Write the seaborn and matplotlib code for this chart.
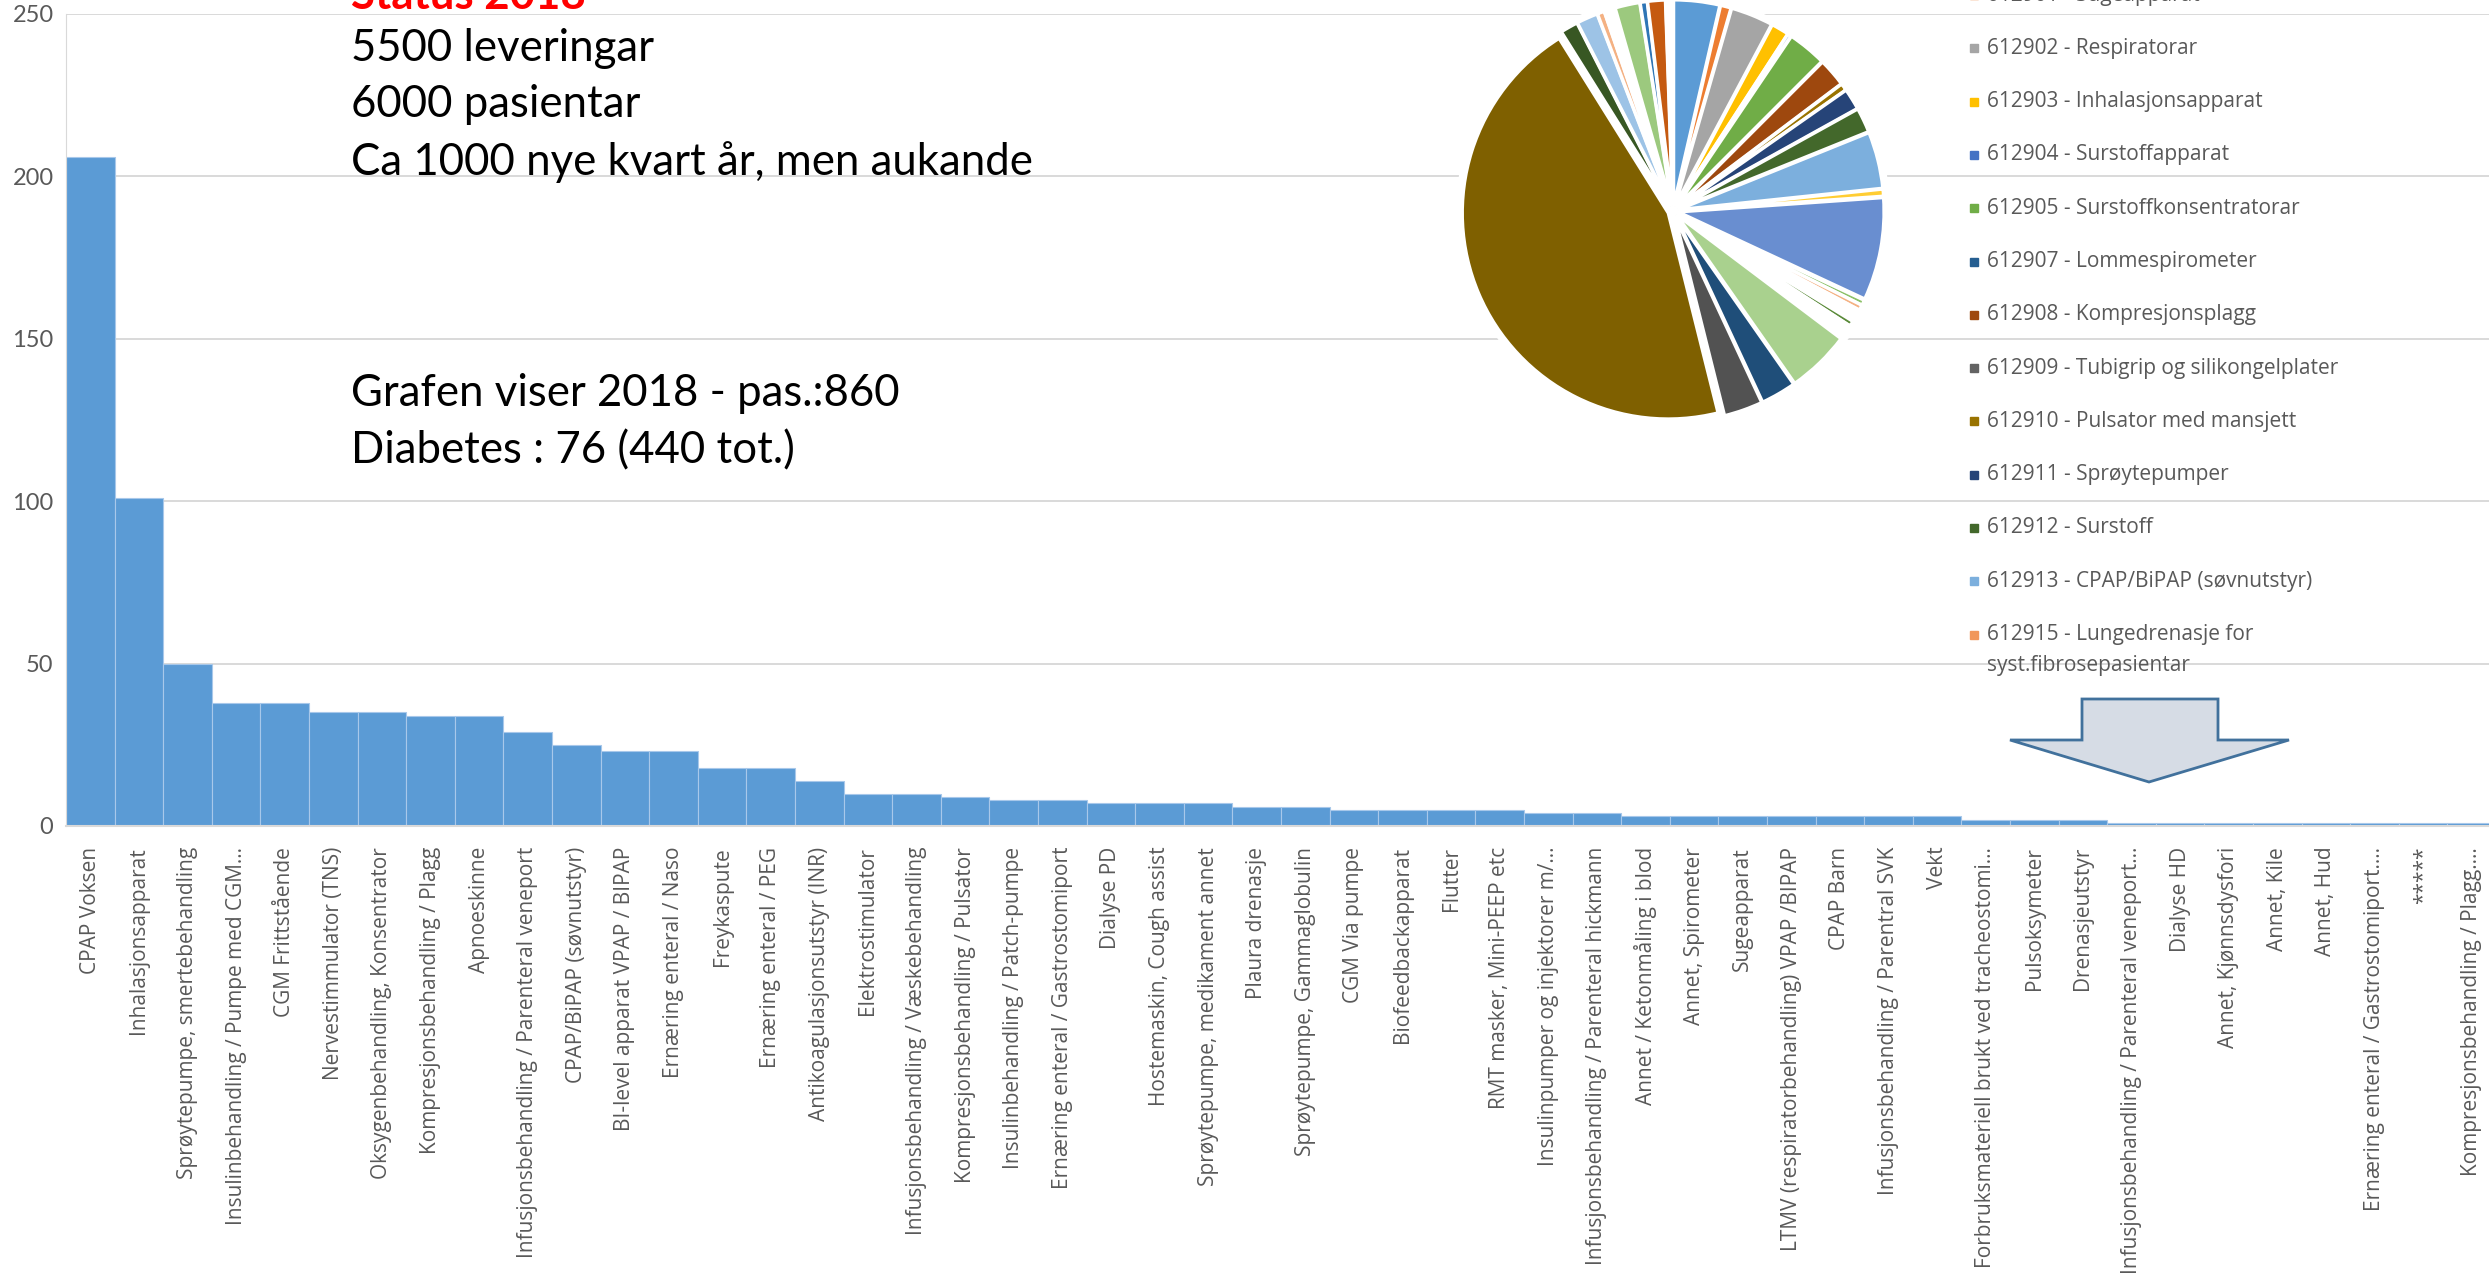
import numpy as np
import pandas as pd
import seaborn as sns
import matplotlib.pyplot as plt
from matplotlib.patches import Polygon, Rectangle, Circle

W, H = 2489, 1275

# --- data ---
categories = [
    "CPAP Voksen", "Inhalasjonsapparat", "Sprøytepumpe, smertebehandling",
    "Insulinbehandling / Pumpe med CGM...", "CGM Frittstående", "Nervestimmulator (TNS)",
    "Oksygenbehandling, Konsentrator", "Kompresjonsbehandling / Plagg", "Apnoeskinne",
    "Infusjonsbehandling / Parenteral veneport", "CPAP/BiPAP (søvnutstyr)",
    "BI-level apparat VPAP / BIPAP", "Ernæring enteral / Naso", "Freykaspute",
    "Ernæring enteral / PEG", "Antikoagulasjonsutstyr (INR)", "Elektrostimulator",
    "Infusjonsbehandling / Væskebehandling", "Kompresjonsbehandling / Pulsator",
    "Insulinbehandling / Patch-pumpe", "Ernæring enteral / Gastrostomiport", "Dialyse PD",
    "Hostemaskin, Cough assist", "Sprøytepumpe, medikament annet", "Plaura drenasje",
    "Sprøytepumpe, Gammaglobulin", "CGM Via pumpe", "Biofeedbackapparat", "Flutter",
    "RMT masker, Mini-PEEP etc", "Insulinpumper og injektorer m/...",
    "Infusjonsbehandling / Parenteral hickmann", "Annet / Ketonmåling i blod",
    "Annet, Spirometer", "Sugeapparat", "LTMV (respiratorbehandling) VPAP /BIPAP",
    "CPAP Barn", "Infusjonsbehandling / Parentral SVK", "Vekt",
    "Forbruksmateriell brukt ved tracheostomi...", "Pulsoksymeter", "Drenasjeutstyr",
    "Infusjonsbehandling / Parenteral veneport...", "Dialyse HD", "Annet, Kjønnsdysfori",
    "Annet, Kile", "Annet, Hud", "Ernæring enteral / Gastrostomiport....", "*****",
    "Kompresjonsbehandling / Plagg....",
]
counts = [206, 101, 50, 38, 38, 35, 35, 34, 34, 29, 25, 23, 23, 18, 18, 14, 10, 10, 9, 8,
          8, 7, 7, 7, 6, 6, 5, 5, 5, 5, 4, 4, 3, 3, 3, 3, 3, 3, 3, 2,
          2, 2, 1, 1, 1, 1, 1, 1, 1, 1]

# pie slices, clockwise from 12 o'clock (relative shares)
pie_values = [13, 3, 12, 5, 1, 11, 8, 2, 6, 7, 16, 2, 29, 1.5, 1.5, 3.5, 1.5, 4,
              18, 10, 11, 162, 5, 6, 2, 3, 7, 2, 5, 2]
pie_colors = ["#5B9BD5", "#ED7D31", "#A5A5A5", "#FFC000", "#4472C4", "#70AD47",
              "#9E480E", "#997300", "#264478", "#43682B", "#7CAFDD", "#FFCD33",
              "#698ED0", "#8CC168", "#F4B183", "#FFFFFF", "#5A8A39", "#FFFFFF",
              "#A9D18E", "#1F4E79", "#525252", "#7F6000", "#385723", "#9DC3E6",
              "#F4B183", "#FFFFFF", "#9CC97E", "#2E75B6", "#C55A11", "#FFFFFF"]

legend_labels = [
    "612901 - Sugeapparat", "612902 - Respiratorar", "612903 - Inhalasjonsapparat",
    "612904 - Surstoffapparat", "612905 - Surstoffkonsentratorar", "612907 - Lommespirometer",
    "612908 - Kompresjonsplagg", "612909 - Tubigrip og silikongelplater",
    "612910 - Pulsator med mansjett", "612911 - Sprøytepumper", "612912 - Surstoff",
    "612913 - CPAP/BiPAP (søvnutstyr)", "612915 - Lungedrenasje for\nsyst.fibrosepasientar",
]
legend_colors = ["#ED7D31", "#A5A5A5", "#FFC000", "#4472C4", "#70AD47", "#255E91",
                 "#9E480E", "#636363", "#997300", "#264478", "#43682B", "#7CAFDD", "#F1975A"]

notes_top = ["5500 leveringar", "6000 pasientar", "Ca 1000 nye kvart år, men aukande"]
notes_mid = ["Grafen viser 2018 - pas.:860", "Diabetes : 76 (440 tot.)"]

sns.set_style("white")
plt.rcParams['font.family'] = ['Open Sans', 'DejaVu Sans']


def fx(px):
    return px / W


def fy(py):
    return 1 - py / H


fig = plt.figure(figsize=(W / 100, H / 100), dpi=100)

# --- bar chart ---
ax = fig.add_axes([fx(66), fy(826), 2430 / W, (826 - 14) / H])
sns.barplot(x=categories, y=counts, color="#5B9BD5", saturation=1, width=1.0,
            edgecolor="#A8C8EA", linewidth=0.8, ax=ax)
ax.set_xlim(-0.5, len(categories) - 0.5)
ax.set_ylim(0, 250)
ax.set_yticks(range(0, 251, 50))
ax.set_axisbelow(True)
ax.yaxis.grid(True, color="#D9D9D9", lw=1.4)
ax.xaxis.grid(False)
for s in ["top", "right"]:
    ax.spines[s].set_visible(False)
ax.spines["left"].set_color("#D9D9D9")
ax.spines["bottom"].set_color("#D9D9D9")
ax.spines["bottom"].set_linewidth(1.5)
ax.set_xlabel("")
ax.set_ylabel("")
ax.tick_params(axis="x", length=0, pad=15)
ax.tick_params(axis="y", length=0, pad=9)
ax.set_xticks(range(len(categories)))
ax.set_xticklabels(categories, rotation=90, fontsize=15, color="#595959")
for t in ax.get_yticklabels():
    t.set_family(["Lato", "DejaVu Sans"])
    t.set_fontsize(17)
    t.set_color("#595959")

# --- text boxes ---
big = dict(fontsize=31.5, family=["Lato", "DejaVu Sans"], color="black", va="baseline")
fig.text(fx(351), fy(9), "Status 2018", color="red", fontweight="bold",
         fontsize=31.5, family=["Lato", "DejaVu Sans"], va="baseline")
for txt, yb in zip(notes_top, [61, 117, 175]):
    fig.text(fx(351), fy(yb), txt, **big)
for txt, yb in zip(notes_mid, [406, 463]):
    fig.text(fx(351), fy(yb), txt, **big)

# --- pie inset ---
cx, cy, r = 1673, 211, 206
side = 2.2 * r
axp = fig.add_axes([fx(cx - side / 2), fy(cy + side / 2), side / W, side / H])
axp.patch.set_visible(False)
axp.add_patch(Circle((0, 0), 1.05, color="white", zorder=0))
axp.pie(pie_values, colors=pie_colors, startangle=90, counterclock=False,
        explode=[0.025] * len(pie_values),
        wedgeprops=dict(edgecolor="white", linewidth=2.4))
axp.set_xlim(-1.1, 1.1)
axp.set_ylim(-1.1, 1.1)
axp.set_aspect("equal")
axp.axis("off")

# --- legend (scrolled list) ---
y0, dy = -5, 53.3
for i, (lab, col) in enumerate(zip(legend_labels, legend_colors)):
    yc = y0 + i * dy
    fig.add_artist(Rectangle((fx(1970), fy(yc + 4)), 8 / W, 8 / H,
                             transform=fig.transFigure, color=col))
    for k, line in enumerate(lab.split("\n")):
        fig.text(fx(1987), fy(yc + k * 30.5), line, fontsize=15, color="#595959",
                 va="center")

# --- block arrow ---
arrow_px = [(2082, 699), (2218, 699), (2218, 740), (2289, 740), (2149, 782),
            (2010, 740), (2082, 740)]
fig.add_artist(Polygon([(fx(x), fy(y)) for x, y in arrow_px], closed=True,
                       transform=fig.transFigure, facecolor="#D6DCE5",
                       edgecolor="#41719C", lw=2))

plt.savefig("out.png", dpi=100)
